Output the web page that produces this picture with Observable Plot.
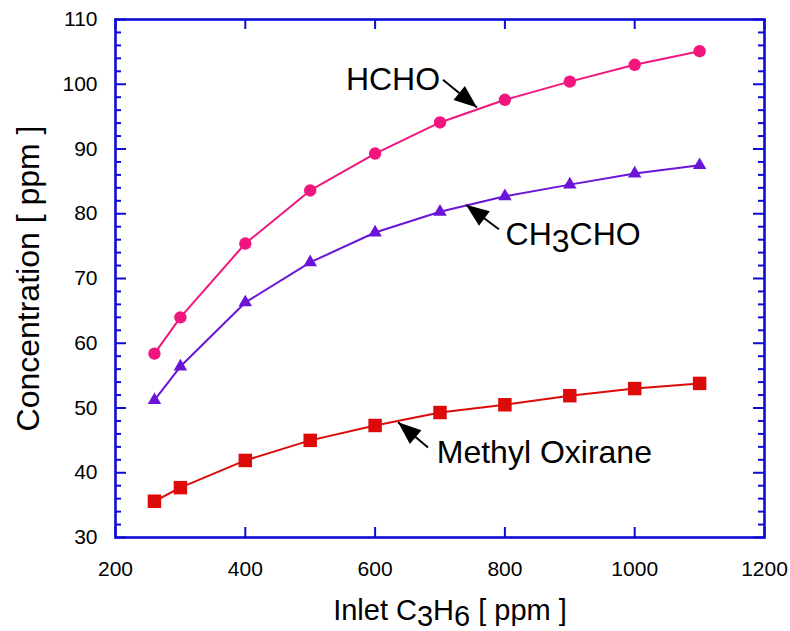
<!DOCTYPE html>
<html>
<head>
<meta charset="utf-8">
<script src="https://cdn.jsdelivr.net/npm/d3@7"></script>
<script src="https://cdn.jsdelivr.net/npm/@observablehq/plot@0.6"></script>
<style>
  html, body { margin: 0; padding: 0; background: #fff; }
</style>
</head>
<body>
<div id="chart"></div>
<script>
// ---- data ----
const inletC3H6 = [260, 300, 400, 500, 600, 700, 800, 900, 1000, 1100];
const hcho      = [58.4, 64.0, 75.4, 83.6, 89.3, 94.1, 97.6, 100.4, 103.0, 105.1];
const ch3cho    = [51.2, 56.4, 66.3, 72.5, 77.1, 80.3, 82.7, 84.5, 86.2, 87.5];
const methylOx  = [35.6, 37.7, 41.9, 45.0, 47.3, 49.3, 50.5, 51.9, 53.0, 53.8];
const seriesNames = ["HCHO", "CH3CHO", "Methyl Oxirane"];

const xTicks = [200, 400, 600, 800, 1000, 1200];
const yTicks = [30, 40, 50, 60, 70, 80, 90, 100, 110];
const yMinorTicks = [32,34,36,38,42,44,46,48,52,54,56,58,62,64,66,68,72,74,76,78,82,84,86,88,92,94,96,98,102,104,106,108];

const xTitle = "Inlet C3H6 [ ppm ]";
const yTitle = "Concentration [ ppm ]";

// annotation anchors (data coordinates)
const annText  = ["HCHO", "CH3CHO", "Methyl Oxirane"];
const annTextX = [555, 801, 695];
const annTextY = [100.7, 76.8, 43.1];
const annFromX = [704.6, 790.8, 681.5];
const annFromY = [100.7, 77.6, 43.9];
const annToX   = [757, 740, 635.4];
const annToY   = [96.4, 81.4, 47.8];

// ---- styles ----
const colors  = {"HCHO": "#f0167e", "CH3CHO": "#6a14d8", "Methyl Oxirane": "#dd0a0a"};
const symbols = {"HCHO": "circle", "CH3CHO": "triangle", "Methyl Oxirane": "square"};
const radii   = {"HCHO": 6.2, "CH3CHO": 5, "Methyl Oxirane": 7.6};
const blue = "#0c0cd4";

const W = 790, H = 631;
const mL = 115, mR = 26, mT = 19, mB = 94;
const fw = W - mL - mR, fh = H - mT - mB;

const seriesVals = [hcho, ch3cho, methylOx];
const rows = seriesNames.flatMap((s, i) => inletC3H6.map((x, j) => ({series: s, x, y: seriesVals[i][j]})));
const ann = annText.map((t, i) => ({t, tx: annTextX[i], ty: annTextY[i], x1: annFromX[i], y1: annFromY[i], x2: annToX[i], y2: annToY[i]}));

const marks = [];
for (const s of seriesNames) {
  const d = rows.filter(r => r.series === s);
  marks.push(Plot.line(d, {x: "x", y: "y", stroke: colors[s], strokeWidth: 2, curve: "linear"}));
}
for (const s of seriesNames) {
  const d = rows.filter(r => r.series === s);
  marks.push(Plot.dot(d, {x: "x", y: "y", fill: colors[s], stroke: "none", symbol: symbols[s], r: radii[s]}));
}
// inward ticks on all four sides
marks.push(
  Plot.tickX(xTicks, {x: d => d, stroke: blue, strokeWidth: 2, insetTop: fh - 10}),
  Plot.tickX(xTicks, {x: d => d, stroke: blue, strokeWidth: 2, insetBottom: fh - 10}),
  Plot.tickY(yTicks, {y: d => d, stroke: blue, strokeWidth: 2, insetRight: fw - 11}),
  Plot.tickY(yTicks, {y: d => d, stroke: blue, strokeWidth: 2, insetLeft: fw - 11}),
  Plot.tickY(yMinorTicks, {y: d => d, stroke: blue, strokeWidth: 2, insetRight: fw - 6}),
  Plot.tickY(yMinorTicks, {y: d => d, stroke: blue, strokeWidth: 2, insetLeft: fw - 6}),
  Plot.frame({stroke: blue, strokeWidth: 2.6})
);
// annotations
marks.push(
  Plot.link(ann, {x1: "x1", y1: "y1", x2: "x2", y2: "y2", stroke: "black", strokeWidth: 2}),
  Plot.text(ann, {x: "tx", y: "ty", text: "t", textAnchor: "start", lineAnchor: "middle", fontSize: 32, fill: "black"}),
  Plot.text([xTitle], {frameAnchor: "bottom", text: d => d, dx: 10, dy: 73, textAnchor: "middle", lineAnchor: "middle", fontSize: 29, fill: "black"}),
  Plot.text([yTitle], {frameAnchor: "left", text: d => d, dx: -87, rotate: -90, textAnchor: "middle", lineAnchor: "middle", fontSize: 32, fill: "black"})
);

const svg = Plot.plot({
  width: W, height: H,
  marginLeft: mL, marginRight: mR, marginTop: mT, marginBottom: mB,
  style: {fontFamily: "'Liberation Sans', Arial, Helvetica, sans-serif", fontSize: "21px", background: "#fff", color: "black"},
  x: {domain: [200, 1200], ticks: xTicks, tickFormat: d3.format("d"), tickSize: 0, tickPadding: 24, label: null},
  y: {domain: [30, 110], ticks: yTicks, tickFormat: d3.format("d"), tickSize: 0, tickPadding: 18, label: null},
  marks
});

// arrowhead marker
const root = d3.select(svg);
const defs = root.append("defs");
defs.append("marker")
  .attr("id", "ahead")
  .attr("viewBox", "-24 -10 26 20")
  .attr("refX", 0).attr("refY", 0)
  .attr("markerWidth", 26).attr("markerHeight", 20)
  .attr("markerUnits", "userSpaceOnUse")
  .attr("orient", "auto")
  .append("path").attr("d", "M0,0L-23,-9L-23,9Z").attr("fill", "black");
root.selectAll('g[aria-label="link"] path, g[aria-label="link"] line').attr("marker-end", "url(#ahead)");

// subscripts for chemical formulae
root.selectAll("text").each(function() {
  const el = this;
  if (el.querySelector("tspan")) return;
  const t = el.textContent;
  if (!/[A-Za-z]\d/.test(t)) return;
  const parts = t.split(/(?<=[A-Za-z])(\d+)/);
  el.textContent = "";
  let sub = false;
  parts.forEach((p, i) => {
    if (p === "") { return; }
    const isSub = i % 2 === 1;
    const ts = d3.select(el).append("tspan").text(p);
    if (isSub && !sub) { ts.attr("dy", "0.22em"); sub = true; }
    else if (!isSub && sub) { ts.attr("dy", "-0.22em"); sub = false; }
  });
});

document.getElementById("chart").appendChild(svg);
</script>
</body>
</html>
